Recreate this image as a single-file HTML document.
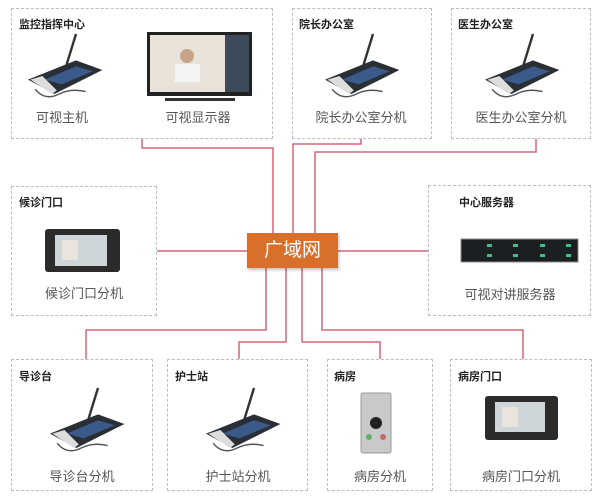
<!DOCTYPE html>
<html><head><meta charset="utf-8"><style>
body{margin:0;width:600px;height:500px;background:#fff;position:relative;overflow:hidden;font-family:"Liberation Sans","Noto Sans CJK SC",sans-serif}
.b{position:absolute;border:1px dashed #bdbdbd;box-sizing:border-box}
.t{position:absolute;font-size:11px;font-weight:bold;color:#222}
.l{position:absolute;font-size:13px;color:#555;text-align:center;width:140px}
svg{position:absolute;left:0;top:0}
.hub{position:absolute;left:247px;top:233px;width:91px;height:35px;background:#d8702c;color:#fff;font-size:19px;text-align:center;line-height:35px;box-shadow:1px 2px 3px rgba(0,0,0,.25)}
</style></head><body>
<div class="b" style="left:11px;top:8px;width:262px;height:131px"></div>
<div class="b" style="left:292px;top:8px;width:140px;height:131px"></div>
<div class="b" style="left:451px;top:8px;width:140px;height:131px"></div>
<div class="b" style="left:11px;top:186px;width:146px;height:130px"></div>
<div class="b" style="left:428px;top:185px;width:163px;height:131px"></div>
<div class="b" style="left:11px;top:359px;width:142px;height:132px"></div>
<div class="b" style="left:167px;top:359px;width:141px;height:132px"></div>
<div class="b" style="left:327px;top:359px;width:106px;height:132px"></div>
<div class="b" style="left:450px;top:359px;width:142px;height:132px"></div>

<svg width="600" height="500">
<defs>
<g id="ph">
<line x1="40" y1="0" x2="32" y2="26" stroke="#333" stroke-width="2"/>
<polygon points="0,38 40,22 62,30 22,50" fill="#2a2f36"/>
<polygon points="14,38 40,27 54,31 28,42" fill="#3a5a8a"/>
<polygon points="2,38 12,35 24,47 20,50" fill="#ddd"/>
<path d="M6,46 q8,10 20,4 q10,-5 22,-2" stroke="#555" fill="none" stroke-width="1.2"/>
</g>
</defs>
<g stroke="#d9677a" stroke-width="1.5" fill="none">
<polyline points="142,139 142,148 273,148 273,233"/>
<polyline points="361,139 361,144 293,144 293,233"/>
<polyline points="536,139 536,152 315,152 315,233"/>
<line x1="157" y1="251" x2="247" y2="251"/>
<line x1="338" y1="251" x2="428" y2="251"/>
<polyline points="266,268 266,330 86,330 86,359"/>
<polyline points="286,268 286,342 239,342 239,359"/>
<polyline points="302,268 302,342 380,342 380,359"/>
<polyline points="322,268 322,330 523,330 523,359"/>
</g>
<use href="#ph" transform="translate(28,34) scale(1.2)"/>
<use href="#ph" transform="translate(325,34) scale(1.2)"/>
<use href="#ph" transform="translate(485,34) scale(1.2)"/>
<use href="#ph" transform="translate(50,388) scale(1.2)"/>
<use href="#ph" transform="translate(206,388) scale(1.2)"/>
<!-- monitor -->
<rect x="147" y="32" width="105" height="64" fill="#222"/>
<rect x="150" y="35" width="75" height="57" fill="#e8e2d8"/>
<rect x="225" y="35" width="24" height="57" fill="#3d4a5a"/>
<circle cx="187" cy="56" r="7" fill="#c9a48a"/>
<rect x="175" y="64" width="25" height="18" fill="#f4f4f4"/>
<rect x="165" y="98" width="70" height="3" fill="#333"/>
<!-- door panels -->
<rect x="45" y="229" width="75" height="43" rx="3" fill="#2b2b2b"/>
<rect x="55" y="235" width="52" height="31" fill="#cfd6da"/>
<rect x="62" y="240" width="16" height="20" fill="#e9e4dc"/>
<rect x="485" y="396" width="73" height="44" rx="3" fill="#2b2b2b"/>
<rect x="495" y="402" width="50" height="30" fill="#cfd6da"/>
<rect x="502" y="407" width="16" height="20" fill="#e9e4dc"/>
<!-- server -->
<rect x="461" y="239" width="117" height="23" fill="#1c1f22" stroke="#888"/>
<g fill="#3fbf8a"><rect x="487" y="244" width="5" height="3"/><rect x="513" y="244" width="5" height="3"/><rect x="540" y="244" width="5" height="3"/><rect x="566" y="244" width="5" height="3"/><rect x="487" y="254" width="5" height="3"/><rect x="513" y="254" width="5" height="3"/><rect x="540" y="254" width="5" height="3"/><rect x="566" y="254" width="5" height="3"/></g>
<!-- ward panel -->
<rect x="361" y="393" width="30" height="60" rx="2" fill="#c8c9cb" stroke="#999"/>
<circle cx="376" cy="423" r="6" fill="#222"/>
<circle cx="369" cy="437" r="3" fill="#6a6"/>
<circle cx="383" cy="437" r="3" fill="#c66"/>
</svg>
<div class="hub">广域网</div>

<div class="t" style="left:19px;top:16px">监控指挥中心</div>
<div class="t" style="left:299px;top:16px">院长办公室</div>
<div class="t" style="left:458px;top:16px">医生办公室</div>
<div class="t" style="left:19px;top:194px">候诊门口</div>
<div class="t" style="left:459px;top:194px">中心服务器</div>
<div class="t" style="left:19px;top:368px">导诊台</div>
<div class="t" style="left:175px;top:368px">护士站</div>
<div class="t" style="left:334px;top:368px">病房</div>
<div class="t" style="left:458px;top:368px">病房门口</div>

<div class="l" style="left:-8px;top:107px">可视主机</div>
<div class="l" style="left:128px;top:107px">可视显示器</div>
<div class="l" style="left:291px;top:107px">院长办公室分机</div>
<div class="l" style="left:451px;top:107px">医生办公室分机</div>
<div class="l" style="left:14px;top:283px">候诊门口分机</div>
<div class="l" style="left:440px;top:284px">可视对讲服务器</div>
<div class="l" style="left:12px;top:466px">导诊台分机</div>
<div class="l" style="left:168px;top:466px">护士站分机</div>
<div class="l" style="left:310px;top:466px">病房分机</div>
<div class="l" style="left:451px;top:466px">病房门口分机</div>
</body></html>
